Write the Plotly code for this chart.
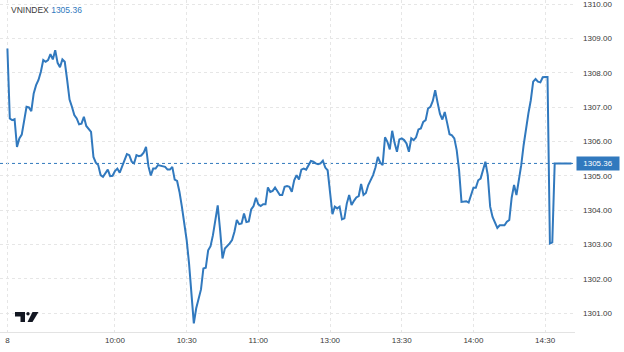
import plotly.graph_objects as go

symbol = "VNINDEX"

times = """
09:15 09:16 09:17 09:18 09:19 09:20 09:21 09:22 09:23 09:24
09:25 09:26 09:27 09:28 09:29 09:30 09:31 09:32 09:33 09:34
09:35 09:36 09:37 09:38 09:39 09:40 09:41 09:42 09:43 09:44
09:45 09:46 09:47 09:48 09:49 09:50 09:51 09:52 09:53 09:54
09:55 09:56 09:57 09:58 09:59 10:00 10:01 10:02 10:03 10:04
10:05 10:06 10:07 10:08 10:09 10:10 10:11 10:12 10:13 10:14
10:15 10:16 10:17 10:18 10:19 10:20 10:21 10:22 10:23 10:24
10:25 10:26 10:27 10:28 10:29 10:30 10:31 10:32 10:33 10:34
10:35 10:36 10:37 10:38 10:39 10:40 10:41 10:42 10:43 10:44
10:45 10:46 10:47 10:48 10:49 10:50 10:51 10:52 10:53 10:54
10:55 10:56 10:57 10:58 10:59 11:00 11:01 11:02 11:03 11:04
11:05 11:06 11:07 11:08 11:09 11:10 11:11 11:12 11:13 11:14
11:15 11:16 11:17 11:18 11:19 11:20 11:21 11:22 11:23 11:24
11:25 11:26 11:27 11:28 11:29
13:00 13:01 13:02 13:03 13:04 13:05 13:06 13:07 13:08 13:09
13:10 13:11 13:12 13:13 13:14 13:15 13:16 13:17 13:18 13:19
13:20 13:21 13:22 13:23 13:24 13:25 13:26 13:27 13:28 13:29
13:30 13:31 13:32 13:33 13:34 13:35 13:36 13:37 13:38 13:39
13:40 13:41 13:42 13:43 13:44 13:45 13:46 13:47 13:48 13:49
13:50 13:51 13:52 13:53 13:54 13:55 13:56 13:57 13:58 13:59
14:00 14:01 14:02 14:03 14:04 14:05 14:06 14:07 14:08 14:09
14:10 14:11 14:12 14:13 14:14 14:15 14:16 14:17 14:18 14:19
14:20 14:21 14:22 14:23 14:24 14:25 14:26 14:27 14:28 14:29
14:30 14:31 14:32 14:33 14:34 14:35 14:36 14:37 14:38 14:39
14:40 14:41
""".split()

values = [
    1308.71, 1306.67, 1306.62, 1306.65, 1305.84, 1306.09, 1306.20, 1306.62, 1307.01, 1306.99,
    1306.88, 1307.40, 1307.64, 1307.79, 1308.03, 1308.37, 1308.32, 1308.37, 1308.54, 1308.39,
    1308.66, 1308.29, 1308.16, 1308.39, 1308.32, 1307.79, 1307.22, 1307.01, 1306.77, 1306.67,
    1306.50, 1306.52, 1306.72, 1306.45, 1306.38, 1306.28, 1305.55, 1305.38, 1305.31, 1305.02,
    1304.97, 1305.07, 1305.18, 1304.99, 1305.00, 1305.14, 1305.21, 1305.09, 1305.26, 1305.44,
    1305.63, 1305.60, 1305.41, 1305.36, 1305.60, 1305.57, 1305.59, 1305.67, 1305.84, 1305.28,
    1305.01, 1305.21, 1305.21, 1305.31, 1305.30, 1305.28, 1305.26, 1305.18, 1305.18, 1305.26,
    1304.89, 1304.85, 1304.53, 1304.10, 1303.66, 1303.13, 1302.45, 1301.57, 1300.70, 1301.14,
    1301.43, 1301.69, 1302.30, 1302.32, 1302.83, 1302.95, 1303.27, 1303.66, 1304.14, 1303.42,
    1302.59, 1302.88, 1302.95, 1303.03, 1303.13, 1303.37, 1303.71, 1303.59, 1303.61, 1303.90,
    1303.65, 1303.67, 1304.02, 1304.12, 1304.36, 1304.17, 1304.12, 1304.17, 1304.17, 1304.66,
    1304.53, 1304.56, 1304.66, 1304.53, 1304.44, 1304.44, 1304.68, 1304.70, 1304.68, 1304.53,
    1304.87, 1305.02, 1304.89, 1305.18, 1305.21, 1305.18, 1305.31, 1305.43, 1305.41, 1305.36,
    1305.34, 1305.36, 1305.44, 1305.24, 1305.16,
    1304.53, 1303.88, 1304.10, 1304.05, 1304.10, 1303.73, 1303.76, 1304.19, 1304.44, 1304.15,
    1304.27, 1304.37, 1304.41, 1304.76, 1304.44, 1304.50, 1304.73, 1304.89, 1305.02, 1305.24,
    1305.55, 1305.38, 1305.31, 1306.12, 1305.99, 1305.77, 1306.31, 1305.96, 1305.70, 1306.06,
    1306.09, 1306.04, 1305.94, 1305.70, 1306.09, 1306.04, 1306.12, 1306.35, 1306.38, 1306.57,
    1306.62, 1306.96, 1307.01, 1307.18, 1307.49, 1307.13, 1306.80, 1306.64, 1306.86, 1306.54,
    1306.21, 1306.18, 1306.09, 1305.75, 1305.16, 1304.24, 1304.26, 1304.26, 1304.22, 1304.44,
    1304.65, 1304.65, 1304.87, 1304.92, 1305.14, 1305.41, 1305.02, 1304.10, 1303.80, 1303.64,
    1303.48, 1303.56, 1303.56, 1303.56, 1303.66, 1303.71, 1304.36, 1304.73, 1304.44, 1304.82,
    1305.31, 1305.89, 1306.43, 1306.82, 1307.20, 1307.74, 1307.82, 1307.74, 1307.72, 1307.87,
    1307.88, 1307.88, 1303.03, 1303.06, 1305.36, 1305.36, 1305.36, 1305.36, 1305.36, 1305.36,
    1305.36, 1305.36,
]

tick_times = ["09:15", "10:00", "10:30", "11:00", "13:00", "13:30", "14:00", "14:30"]
tick_labels = ["8", "10:00", "10:30", "11:00", "13:00", "13:30", "14:00", "14:30"]
y_ticks = [1301, 1302, 1303, 1304, 1305, 1306, 1307, 1308, 1309, 1310]

BLUE = "#3179BE"
TXT = "#3a3a3a"
GRID = "#e6e6e6"
FONT = "Liberation Sans, Arial, sans-serif"

W, H = 624, 352
ML, MR, MT, MB = 0, 49, 0, 20
PW, PH = W - ML - MR, H - MT - MB


def bar_index(t):
    """Position on a session axis with the lunch break collapsed."""
    h, m = map(int, t.split(":"))
    mins = h * 60 + m
    if mins >= 13 * 60:
        return mins - 13 * 60 + 150
    return mins - 9 * 60


def paper(px, py):
    return px / PW, 1 - py / PH


def path(points):
    parts = []
    for i, (px, py) in enumerate(points):
        x, y = paper(px, py)
        parts.append(("M" if i == 0 else "L") + f"{x:.5f},{y:.5f}")
    return " ".join(parts) + " Z"


xs = [bar_index(t) for t in times]
last = values[-1]

fig = go.Figure()
fig.add_trace(go.Scatter(x=xs, y=values, mode="lines",
                         line=dict(color=BLUE, width=2), hoverinfo="skip"))

shapes = [
    dict(type="line", xref="paper", yref="y", x0=0, x1=1, y0=last, y1=last,
         line=dict(color=BLUE, width=1, dash="dot"), layer="below"),
    # TradingView logo
    dict(type="path", xref="paper", yref="paper",
         path=path([(15, 312), (25, 312), (25, 322), (20.5, 322), (20.5, 316.5), (15, 316.5)]),
         fillcolor="#131722", line=dict(width=0)),
    dict(type="circle", xref="paper", yref="paper",
         x0=paper(26.3, 312)[0], x1=paper(29.7, 312)[0],
         y0=paper(0, 315.5)[1], y1=paper(0, 312)[1],
         fillcolor="#131722", line=dict(width=0)),
    dict(type="path", xref="paper", yref="paper",
         path=path([(32.5, 312), (38.5, 312), (32.5, 322), (27.5, 322)]),
         fillcolor="#131722", line=dict(width=0)),
]

lx, ly = paper(9, 9.5)
annotations = [
    dict(xref="paper", yref="paper", x=lx, y=ly, xanchor="left", yanchor="middle",
         showarrow=False,
         text=f"{symbol} <span style='color:{BLUE}'>{last:.2f}</span>",
         font=dict(family=FONT, size=8.5, color=TXT)),
    dict(xref="paper", yref="y", x=1, y=last, xanchor="left", yanchor="middle",
         showarrow=False, text=f"{last:.2f}", bgcolor=BLUE, borderpad=1,
         width=40, height=11, align="center",
         xshift=1, font=dict(family=FONT, size=8, color="white")),
]

fig.update_layout(
    width=W, height=H, autosize=False,
    margin=dict(l=ML, r=MR, t=MT, b=MB, pad=0),
    paper_bgcolor="white", plot_bgcolor="white",
    showlegend=False,
    shapes=shapes, annotations=annotations,
    xaxis=dict(
        range=[11.9, 252.5],
        tickmode="array",
        tickvals=[bar_index(t) for t in tick_times],
        ticktext=tick_labels,
        showgrid=True, gridcolor=GRID, griddash="dot", gridwidth=1,
        zeroline=False, showline=True, linecolor="#e3e3e3", linewidth=1,
        ticks="", tickfont=dict(family=FONT, size=8, color=TXT),
        fixedrange=True,
    ),
    yaxis=dict(
        side="right",
        range=[1300.45, 1310.12],
        tickmode="array", tickvals=y_ticks, tickformat=".2f",
        showgrid=True, gridcolor=GRID, griddash="dot", gridwidth=1,
        zeroline=False, showline=False,
        ticks="", ticklabelstandoff=7, ticklabeloverflow="allow",
        tickfont=dict(family=FONT, size=8, color=TXT),
        fixedrange=True,
    ),
)

fig.write_html("out.html", config={"displayModeBar": False, "staticPlot": True})
